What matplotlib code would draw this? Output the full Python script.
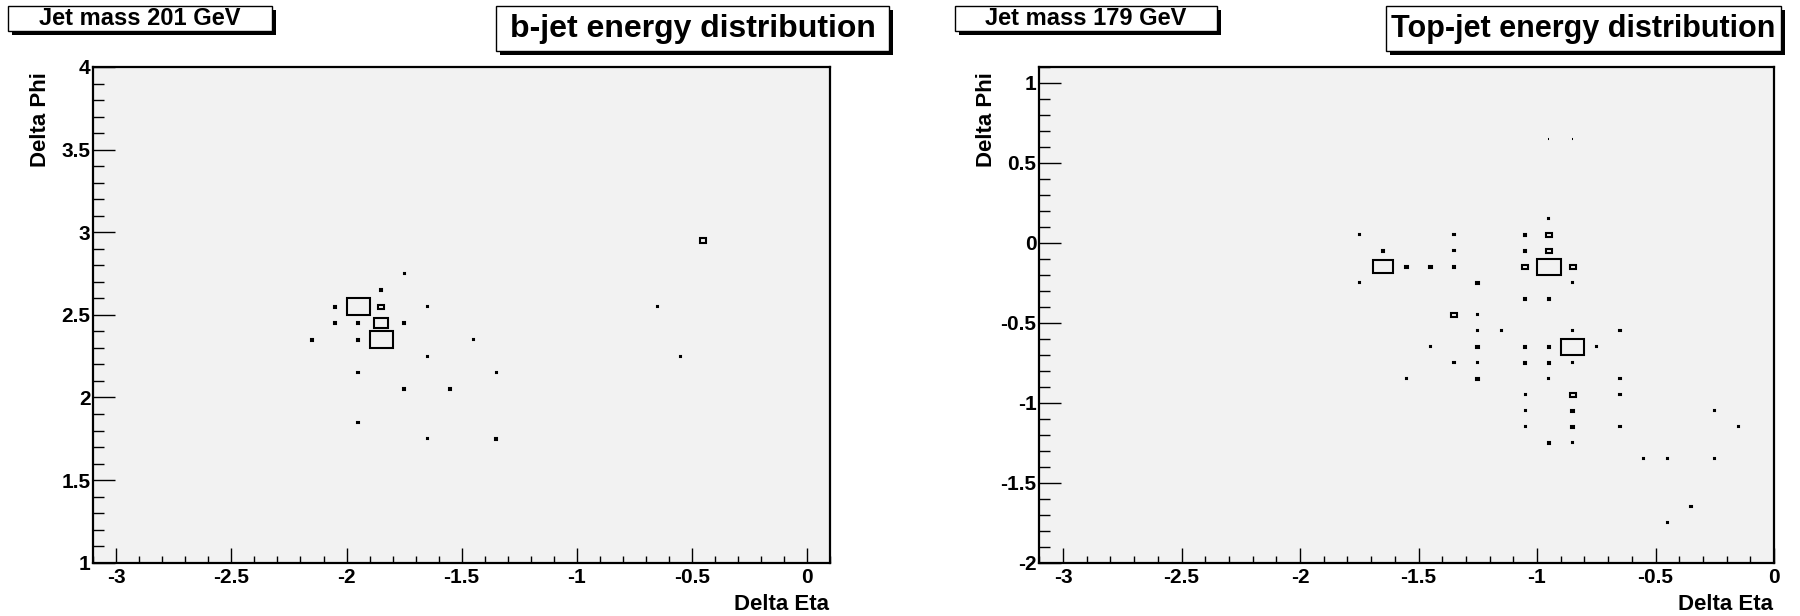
import numpy as np
import matplotlib.pyplot as plt
from matplotlib.patches import Rectangle
from matplotlib.ticker import MultipleLocator, FormatStrFormatter

plt.rcParams['font.family'] = ['Liberation Sans', 'DejaVu Sans']
plt.rcParams['font.weight'] = 'bold'

# b-jet cells: (delta eta, delta phi, energy)
b_eta = [-1.95, -1.85, -1.85, -1.85, -0.45,
         -1.85, -2.05, -2.05, -1.95, -1.75, -2.15, -1.95, -1.75, -1.55, -1.35,
         -1.75, -1.65, -1.45, -1.65, -1.95, -1.35, -1.95, -1.65, -0.65, -0.55]
b_phi = [2.55, 2.35, 2.45, 2.55, 2.95,
         2.65, 2.55, 2.45, 2.45, 2.45, 2.35, 2.35, 2.05, 2.05, 1.75,
         2.75, 2.55, 2.35, 2.25, 2.15, 2.15, 1.85, 1.75, 2.55, 2.25]
b_energy = [48.0, 47.5, 16.5, 3.0, 3.5,
            0.6, 0.6, 0.7, 0.7, 0.7, 0.6, 0.7, 0.7, 0.6, 0.6,
            0.12, 0.12, 0.12, 0.12, 0.12, 0.12, 0.12, 0.12, 0.12, 0.12]

# top-jet cells
t_eta = [-0.95, -0.85, -1.65,
         -0.95, -0.95, -1.05, -0.85, -1.35, -0.85,
         -1.05, -1.65, -1.05, -1.55, -1.45, -1.35, -1.25, -1.05, -0.95,
         -1.25, -1.05, -0.95, -1.05, -0.95, -1.25, -0.85, -0.85, -0.95,
         -0.95, -0.85, -0.95, -1.75, -1.35, -1.35, -1.75, -0.85, -1.25,
         -1.25, -1.15, -0.85, -0.65, -1.45, -0.75, -1.35, -1.25, -0.85,
         -1.55, -0.95, -0.65, -1.05, -0.65, -1.05, -0.25, -1.05, -0.65,
         -0.15, -0.85, -0.55, -0.45, -0.25, -0.35, -0.45]
t_phi = [-0.15, -0.65, -0.15,
         0.05, -0.05, -0.15, -0.15, -0.45, -0.95,
         0.05, -0.05, -0.05, -0.15, -0.15, -0.15, -0.25, -0.35, -0.35,
         -0.65, -0.65, -0.65, -0.75, -0.75, -0.85, -1.05, -1.15, -1.25,
         0.65, 0.65, 0.15, 0.05, 0.05, -0.05, -0.25, -0.25, -0.45,
         -0.55, -0.55, -0.55, -0.55, -0.65, -0.65, -0.75, -0.75, -0.75,
         -0.85, -0.85, -0.85, -0.95, -0.95, -1.05, -1.05, -1.15, -1.15,
         -1.15, -1.25, -1.35, -1.35, -1.35, -1.65, -1.75]
t_energy = [30.0, 30.5, 20.0,
            2.0, 2.0, 2.0, 2.0, 2.0, 2.0,
            0.35, 0.35, 0.35, 0.35, 0.35, 0.35, 0.35, 0.35, 0.35,
            0.35, 0.35, 0.35, 0.35, 0.35, 0.35, 0.35, 0.35, 0.35,
            0.08, 0.08, 0.08, 0.08, 0.08, 0.08, 0.08, 0.08, 0.08,
            0.08, 0.08, 0.08, 0.08, 0.08, 0.08, 0.08, 0.08, 0.08,
            0.08, 0.08, 0.08, 0.08, 0.08, 0.08, 0.08, 0.08, 0.08,
            0.08, 0.08, 0.08, 0.08, 0.08, 0.08, 0.08]

W, H = 1800, 616
BIN = 0.1

fig = plt.figure(figsize=(W / 100, H / 100), dpi=100)


def draw_boxes(ax, eta, phi, energy):
    # box side scales with sqrt(E / Emax), full bin for the hottest cell
    emax = max(energy)
    for x, y, e in zip(eta, phi, energy):
        r = np.sqrt(e / emax) * BIN
        ax.add_patch(Rectangle((x - r / 2, y - r / 2), r, r, fill=False,
                               edgecolor='black', linewidth=1.5))


def style_axes(ax, xlim, ylim):
    ax.set_facecolor('#f2f2f2')
    ax.set_xlim(*xlim)
    ax.set_ylim(*ylim)
    ax.xaxis.set_major_locator(MultipleLocator(0.5))
    ax.xaxis.set_minor_locator(MultipleLocator(0.1))
    ax.yaxis.set_major_locator(MultipleLocator(0.5))
    ax.yaxis.set_minor_locator(MultipleLocator(0.1))
    ax.xaxis.set_major_formatter(FormatStrFormatter('%g'))
    ax.yaxis.set_major_formatter(FormatStrFormatter('%g'))
    ax.tick_params(axis='x', which='major', direction='in', length=10.8, width=1.0, pad=4, labelsize=15)
    ax.tick_params(axis='x', which='minor', direction='in', length=5.4, width=1.0)
    ax.tick_params(axis='y', which='major', direction='in', length=15.9, width=1.0, pad=2, labelsize=15)
    ax.tick_params(axis='y', which='minor', direction='in', length=8, width=1.0)
    for s in ax.spines.values():
        s.set_linewidth(1.6)


def pave(x0, y0, x1, y1, text, size, sh=4):
    # white box with a drop shadow, coordinates in pixels from the top left
    fig.patches.append(Rectangle(((x0 + sh) / W, 1 - (y1 + sh) / H), (x1 - x0) / W, (y1 - y0) / H,
                                 transform=fig.transFigure, facecolor='black', edgecolor='none'))
    fig.patches.append(Rectangle((x0 / W, 1 - y1 / H), (x1 - x0) / W, (y1 - y0) / H,
                                 transform=fig.transFigure, facecolor='white', edgecolor='black', linewidth=1))
    fig.text((x0 + x1) / 2 / W, 1 - (y0 + y1) / 2 / H, text, ha='center', va='center',
             fontsize=size, fontweight='bold')


ax1 = fig.add_axes([93.3 / W, 1 - 562.7 / H, 736.7 / W, 495.7 / H])
style_axes(ax1, (-3.1, 0.1), (1, 4))
draw_boxes(ax1, b_eta, b_phi, b_energy)

ax2 = fig.add_axes([1039.3 / W, 1 - 562.7 / H, 734.7 / W, 495.7 / H])
style_axes(ax2, (-3.1, 0), (-2, 1.1))
draw_boxes(ax2, t_eta, t_phi, t_energy)

for left, right in [(93.3, 830), (1039.3, 1774)]:
    fig.text((left - 53) / W, 1 - 72 / H, 'Delta Phi', rotation=90, ha='center', va='top', fontsize=16)
    fig.text((right - 1) / W, 1 - 605 / H, 'Delta Eta', ha='right', va='center', fontsize=16)

pave(8, 6, 272, 31, 'Jet mass 201 GeV', 17)
pave(496, 6, 889, 51, 'b-jet energy distribution', 23)
pave(955, 6, 1217, 31, 'Jet mass 179 GeV', 17)
pave(1386, 6, 1781, 51, 'Top-jet energy distribution', 22)

fig.savefig('out.png', dpi=100)
